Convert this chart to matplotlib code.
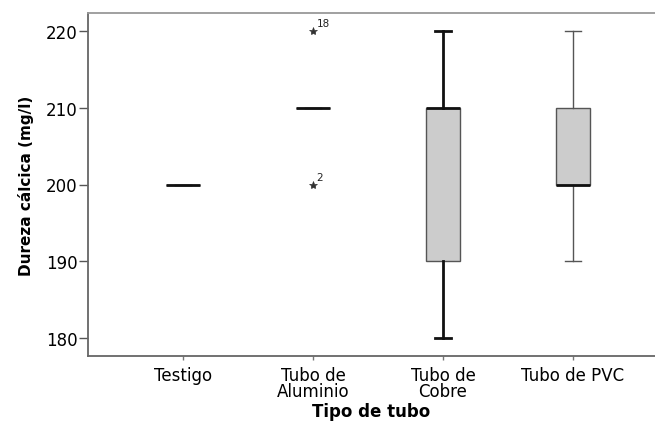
import matplotlib
matplotlib.use("Agg")
import matplotlib.pyplot as plt

plt.rcParams['font.family'] = ['DejaVu Sans']

categories = ["Testigo", "Tubo de\nAluminio", "Tubo de\nCobre", "Tubo de PVC"]
whislo = [200, 210, 180, 190]
q1 = [200, 210, 190, 200]
med = [200, 210, 210, 200]
q3 = [200, 210, 210, 210]
whishi = [200, 210, 220, 220]
outliers = [[], [220, 200], [], []]
outlier_ids = [[], ["18", "2"], [], []]
yticks = [180, 190, 200, 210, 220]

fig = plt.figure(figsize=(6.55, 4.27), dpi=100)
ax = fig.add_axes([88/655, 70/427, (655-88)/655, (357-14)/427])

stats = []
for i in range(len(categories)):
    stats.append(dict(whislo=whislo[i], q1=q1[i], med=med[i], q3=q3[i],
                      whishi=whishi[i], fliers=[]))
positions = list(range(1, len(categories) + 1))
res = ax.bxp(stats, positions=positions, widths=0.255, patch_artist=True,
             showfliers=False,
             boxprops=dict(facecolor='#cccccc', edgecolor='#555555', linewidth=1.0),
             medianprops=dict(color='#111111', linewidth=2.0),
             whiskerprops=dict(color='#555555', linewidth=1.0),
             capprops=dict(color='#555555', linewidth=1.0),
             capwidths=0.125, manage_ticks=False)

# thicker whiskers for Cobre (as in reference)
for j in (4, 5):
    res['whiskers'][j].set_color('#111111')
    res['whiskers'][j].set_linewidth(2.0)
    res['caps'][j].set_color('#111111')
    res['caps'][j].set_linewidth(2.0)

for i, (vals, ids) in enumerate(zip(outliers, outlier_ids)):
    for v, lab in zip(vals, ids):
        ax.plot([positions[i]], [v], marker='*', markersize=6, color='#333333',
                markeredgewidth=0.5, linestyle='none')
        ax.annotate(lab, (positions[i], v), xytext=(2.5, 3.5), textcoords='offset points',
                    fontsize=7.5, color='#222222', ha='left', va='baseline')

ax.set_xlim(0.269, 4.631)
ax.set_ylim(177.7, 222.3)
ax.set_yticks(yticks)
ax.set_xticks(positions)
ax.set_xticklabels(categories, fontsize=12, linespacing=0.85)
ax.tick_params(axis='y', labelsize=12, length=6.5, color='#555555', width=1, pad=1)
ax.tick_params(axis='x', length=3, color='#777777', width=1, pad=4)

for s in ['left', 'bottom']:
    ax.spines[s].set_color('#666666')
    ax.spines[s].set_linewidth(1.3)
ax.spines['top'].set_color('#999999')
ax.spines['top'].set_linewidth(1.3)
ax.spines['right'].set_visible(False)

ax.set_ylabel("Dureza cálcica (mg/l)", fontsize=11, fontweight='bold')
ax.set_xlabel("Tipo de tubo", fontsize=12, fontweight='bold')
ax.yaxis.set_label_coords(-0.095, 0.5)
ax.xaxis.set_label_coords(0.5, -0.135)

fig.savefig("out.png", dpi=100)
